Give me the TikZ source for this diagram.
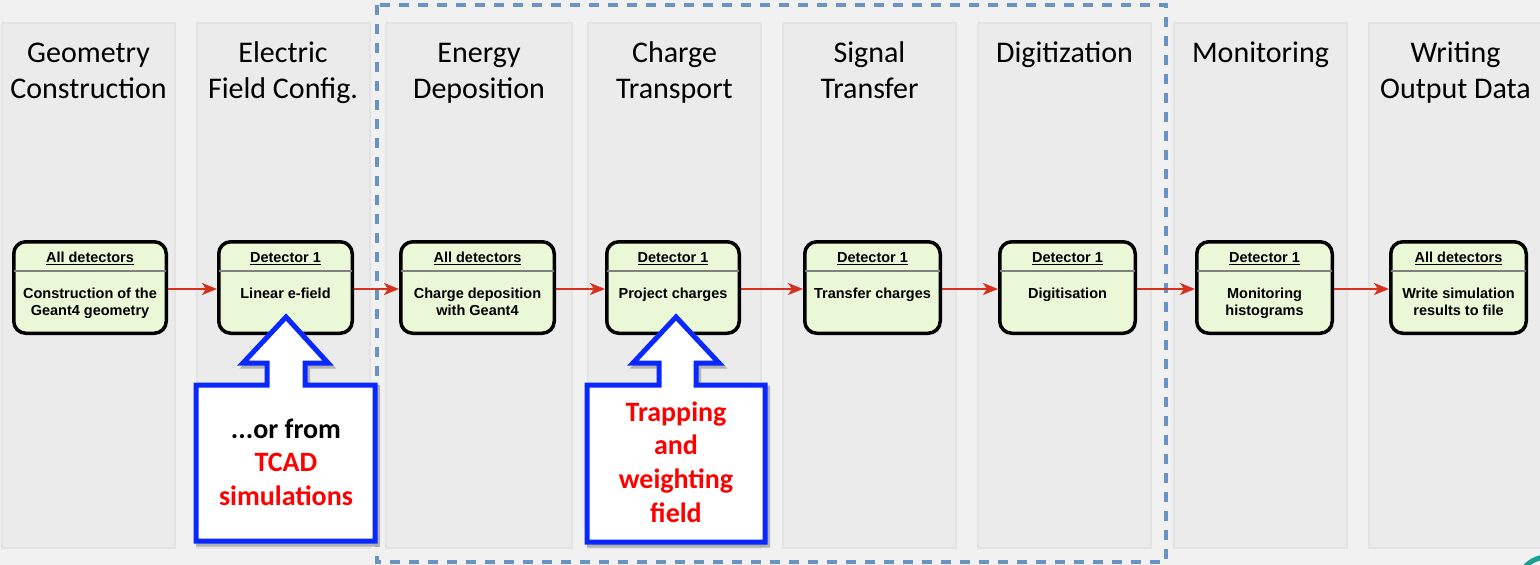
\documentclass[tikz,border=0pt]{standalone}
\usepackage{fontspec}
\setmainfont{Carlito}
\newfontfamily\boxfont{Liberation Sans}
\usetikzlibrary{arrows.meta}

\definecolor{pagebg}{RGB}{241,241,241}
\definecolor{panelfill}{RGB}{235,235,235}
\definecolor{paneledge}{RGB}{227,227,227}
\definecolor{stagefill}{RGB}{234,248,216}
\definecolor{flowred}{RGB}{214,48,30}
\definecolor{frameblue}{RGB}{104,147,194}
\definecolor{calloutblue}{RGB}{8,40,255}
\definecolor{notered}{RGB}{255,0,0}
\definecolor{logoteal}{RGB}{24,160,150}

% one processing stage: name, centre x, width, header, body
\newcommand{\simstage}[5]{%
  \node[stagebox, minimum width=#3] (#1) at (#2,287.5) {};
  \draw[sepline] ([yshift=-31.25pt]#1.north west) -- ([yshift=-31.25pt]#1.north east);
  \node[stagehead] (#1-head) at ([yshift=-22.75pt]#1.north) {\underline{#4}};
  \node[stagebody] (#1-body) at ([yshift=-46pt]#1.north) {\rule{0pt}{12pt}#5};
}

\begin{document}
\begin{tikzpicture}[x=1pt,y=-1pt,
  panel/.style={fill=panelfill, draw=paneledge, line width=2pt},
  coltitle/.style={anchor=north, inner sep=0pt, align=center,
    font=\fontsize{30}{36}\selectfont},
  stagebox/.style={draw=black, line width=3.5pt, fill=stagefill,
    rounded corners=12pt, minimum height=91.5pt, inner sep=0pt},
  sepline/.style={draw=black!50, line width=1.6pt, shorten <=1.75pt, shorten >=1.75pt},
  stagehead/.style={anchor=base, inner sep=0pt,
    font=\boxfont\bfseries\fontsize{14.5}{17.5}\selectfont},
  stagebody/.style={anchor=north, inner sep=0pt, align=center,
    font=\boxfont\bfseries\fontsize{14.5}{17.5}\selectfont},
  flow/.style={draw=flowred, line width=2.2pt,
    -{Stealth[length=15pt, width=12pt, inset=4pt]}},
  stageframe/.style={draw=frameblue, line width=3.8pt, dash pattern=on 10pt off 9pt},
  callout/.style={draw=calloutblue, fill=white, line width=5pt, line join=miter},
  calloutshadow/.style={fill=black!30, draw=black!30, line width=5pt},
  callouttext/.style={anchor=north, inner sep=0pt, align=center,
    font=\bfseries\fontsize{28}{33.6}\selectfont}
]
\useasboundingbox (0,0) rectangle (1540,565);
\fill[pagebg] (0,0) rectangle (1540,565);

% column panels
\foreach \l/\r in {1/176, 196/371, 385/573, 587/762, 782/957, 977/1152, 1173/1348, 1368/1548}
  \draw[panel] (\l+1,23) rectangle (\r-1,548);

% column titles
\node[coltitle] (t1) at (88.5,38)  {\rule{0pt}{24pt}Geometry\\Construction};
\node[coltitle] (t2) at (283,38)   {\rule{0pt}{24pt}Electric\\Field Config.};
\node[coltitle] (t3) at (479,38)   {\rule{0pt}{24pt}Energy\\Deposition};
\node[coltitle] (t4) at (674.5,38) {\rule{0pt}{24pt}Charge\\Transport};
\node[coltitle] (t5) at (869.5,38) {\rule{0pt}{24pt}Signal\\Transfer};
\node[coltitle] (t6) at (1064.5,38){\rule{0pt}{24pt}Digitization};
\node[coltitle] (t7) at (1260.5,38){\rule{0pt}{24pt}Monitoring};
\node[coltitle] (t8) at (1455.5,38){\rule{0pt}{24pt}Writing\\Output Data};

% dashed frame around the per-event stages
\draw[stageframe] (377,5) rectangle (1166,562);

% stages
\simstage{b1}{90}{152.5pt}{All detectors}{Construction of the\\Geant4 geometry}
\simstage{b2}{285.5}{133.5pt}{Detector 1}{Linear e-field}
\simstage{b3}{477.5}{153.5pt}{All detectors}{Charge deposition\\with Geant4}
\simstage{b4}{673}{132.5pt}{Detector 1}{Project charges}
\simstage{b5}{872.5}{135.5pt}{Detector 1}{Transfer charges}
\simstage{b6}{1067.5}{135.5pt}{Detector 1}{Digitisation}
\simstage{b7}{1264.5}{135.5pt}{Detector 1}{Monitoring\\histograms}
\simstage{b8}{1458.5}{135.5pt}{All detectors}{Write simulation\\results to file}

% flow between stages
\foreach \a/\b in {b1/b2, b2/b3, b3/b4, b4/b5, b5/b6, b6/b7, b7/b8}
  \draw[flow] ([yshift=-1.5pt]\a.east) -- ([yshift=-1.5pt]\b.west);

% callout under the field stage
\fill[calloutshadow, shift={(2.5,3)}]
  (196,385) -- (267,385) -- (267,363) -- (243,363) -- (286,317) -- (328,363)
  -- (305,363) -- (305,385) -- (375,385) -- (375,541) -- (196,541) -- cycle;
\draw[callout]
  (196,385) -- (267,385) -- (267,363) -- (243,363) -- (286,317) -- (328,363)
  -- (305,363) -- (305,385) -- (375,385) -- (375,541) -- (196,541) -- cycle;
\node[callouttext] (c1) at (286,416)
  {\rule{0pt}{22pt}...or from\\\textcolor{notered}{TCAD}\\\textcolor{notered}{simulations}};

% callout under the transport stage
\fill[calloutshadow, shift={(2.5,3)}]
  (587,385) -- (659,385) -- (659,363) -- (633,363) -- (676,317) -- (719,363)
  -- (696,363) -- (696,385) -- (765,385) -- (765,542) -- (587,542) -- cycle;
\draw[callout]
  (587,385) -- (659,385) -- (659,363) -- (633,363) -- (676,317) -- (719,363)
  -- (696,363) -- (696,385) -- (765,385) -- (765,542) -- (587,542) -- cycle;
\node[callouttext, text=notered] (c2) at (676,399)
  {\rule{0pt}{22pt}Trapping\\and\\weighting\\field};

% corner of a logo
\draw[logoteal, line width=5pt] (1524,568) .. controls (1529,562) and (1534,559) .. (1544,557);
\end{tikzpicture}
\end{document}
